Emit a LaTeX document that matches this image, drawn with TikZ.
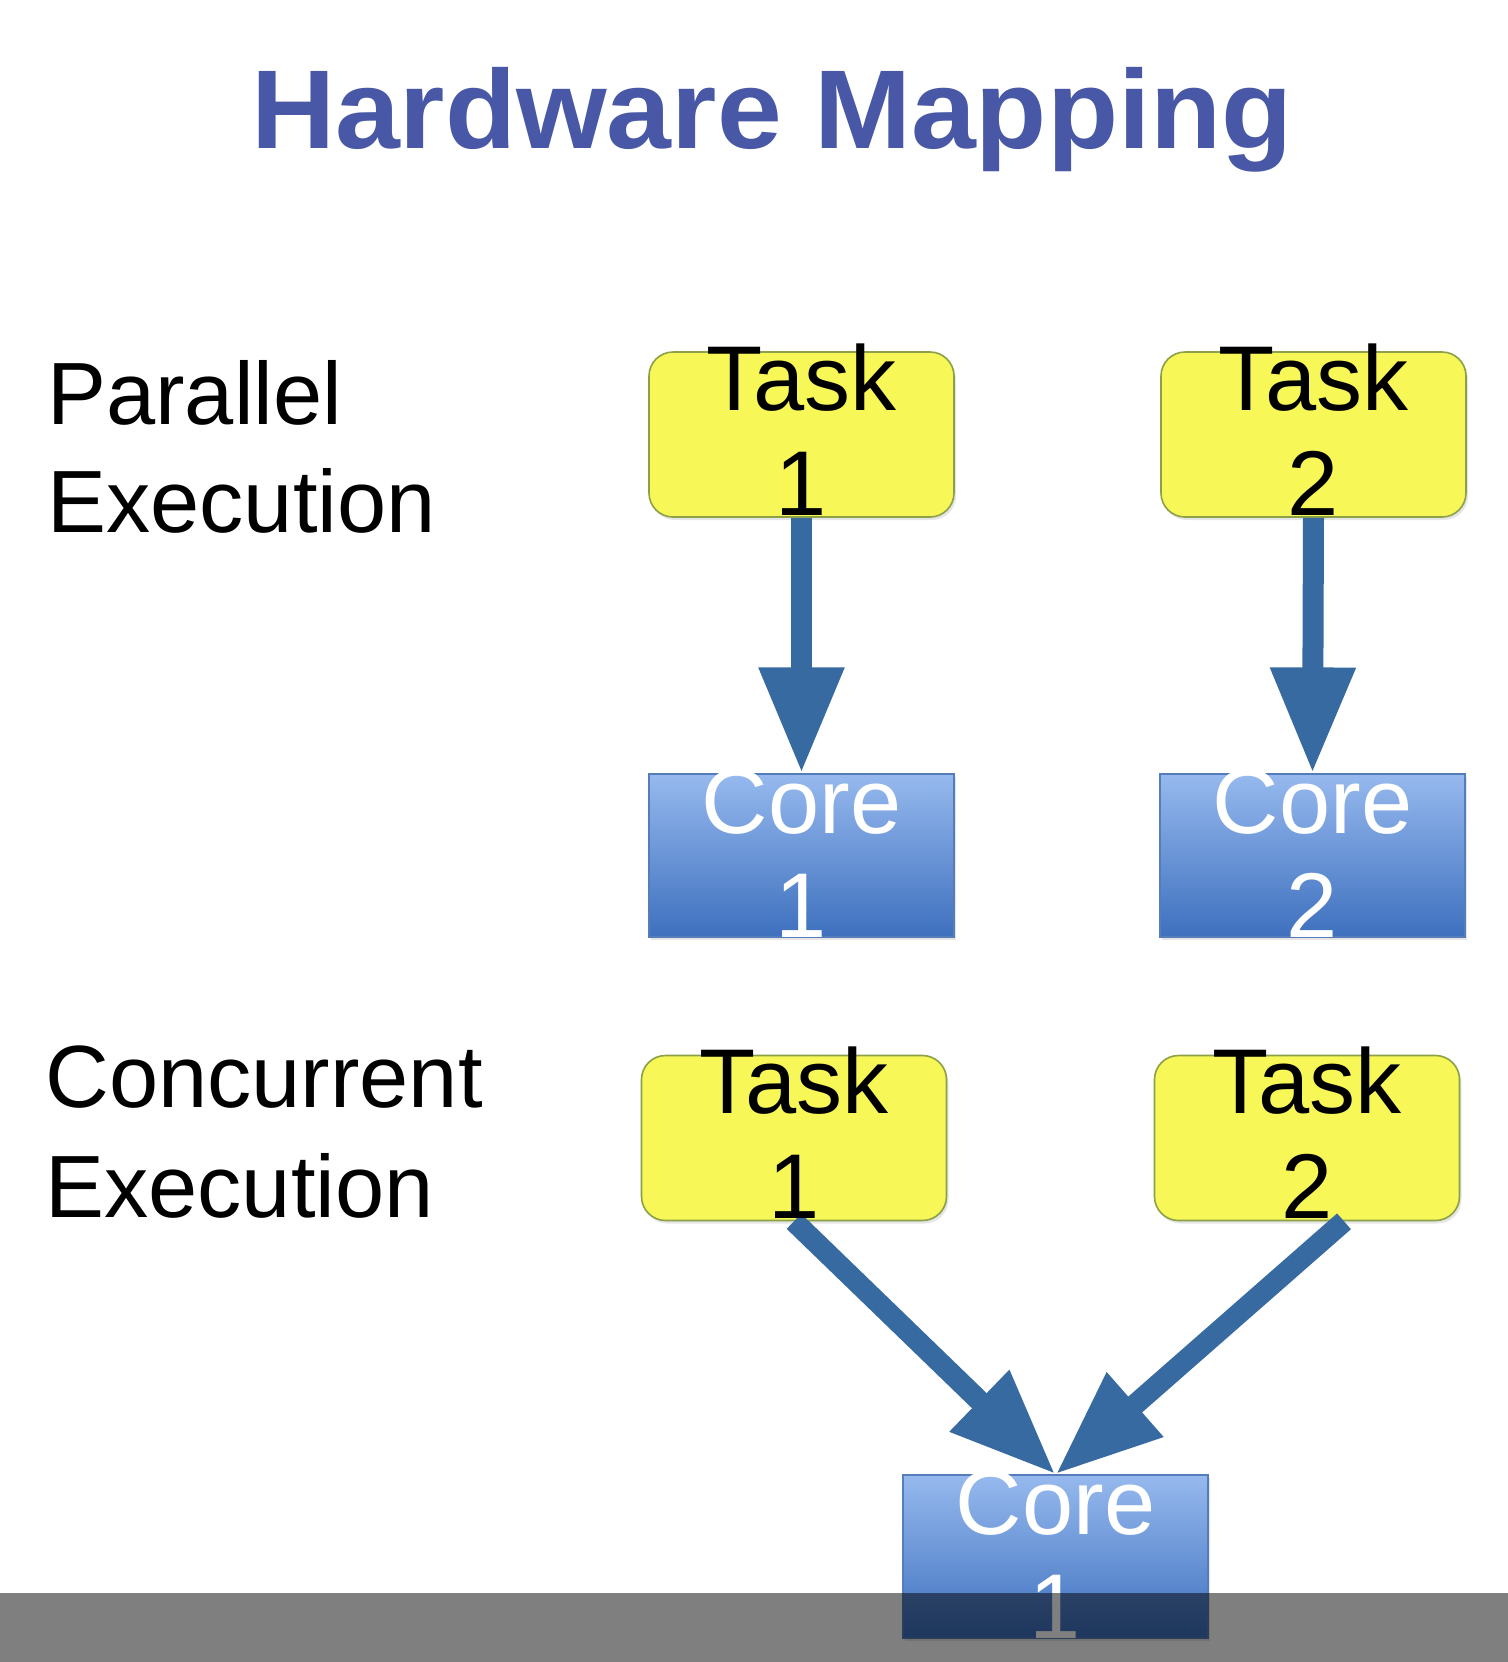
\documentclass[tikz,border=0pt]{standalone}
\usepackage{fontspec}
\setmainfont{Liberation Sans}
\usetikzlibrary{arrows.meta,calc,shadows}
\definecolor{titleblue}{RGB}{72,88,166}
\definecolor{taskyellow}{RGB}{247,247,88}
\definecolor{taskborder}{RGB}{140,160,70}
\definecolor{corelight}{RGB}{150,185,238}
\definecolor{coredark}{RGB}{62,112,190}
\definecolor{coreborder}{RGB}{85,125,185}
\definecolor{arrowblue}{RGB}{56,106,162}
\begin{document}
\begin{tikzpicture}[x=0.5pt,y=-0.5pt,
  taskbox/.style={draw=taskborder, line width=0.8pt, fill=taskyellow, rounded corners=12pt,
    minimum width=152.5pt, minimum height=82.5pt, inner sep=0pt,
    drop shadow={opacity=0.2,shadow xshift=1pt,shadow yshift=-1.5pt}},
  corebox/.style={draw=coreborder, line width=0.6pt, top color=corelight, bottom color=coredark,
    minimum width=152.5pt, minimum height=81.5pt, inner sep=0pt,
    drop shadow={opacity=0.2,shadow xshift=1pt,shadow yshift=-1.5pt}},
  boxtext/.style={font=\fontsize{46}{52}\selectfont, inner sep=0pt, anchor=base},
  tasktext/.style={boxtext, text=black},
  coretext/.style={boxtext, text=white},
  sidetext/.style={font=\fontsize{44.2}{54}\selectfont, inner sep=0pt, anchor=base west},
  bigarrow/.style={draw=arrowblue, line width=10.5pt, -{Triangle[length=53pt,width=40pt]}}]
\useasboundingbox (0,0) rectangle (1508,1662);
\fill[white] (0,0) rectangle (1508,1662);

% title
\node[font=\fontsize{56}{60}\selectfont\bfseries, text=titleblue, anchor=base, inner sep=0pt] (title) at (772,148) {\scalebox{1.04}[1]{Hardware Mapping}};

% side labels
\node[sidetext] (par1) at (47,424) {Parallel};
\node[sidetext] (par2) at (47,532) {Execution};
\node[sidetext] (con1) at (45,1107) {Concurrent};
\node[sidetext] (con2) at (45,1217) {Execution};

% boxes
\node[taskbox] (t1) at (801.5,434.5) {};
\node[taskbox] (t2) at (1313.5,434.5) {};
\node[corebox] (c1) at (801.5,855.5) {};
\node[corebox] (c2) at (1312.5,855.5) {};
\node[taskbox] (t3) at (794,1138) {};
\node[taskbox] (t4) at (1307,1138) {};
\node[corebox] (c3) at (1055.5,1556.5) {};

% arrows
\coordinate (t4out) at ($(t4.south)+(37,0)$);
\draw[bigarrow] (t1.south) -- (c1.north);
\draw[bigarrow] (t2.south) -- (c2.north);
\draw[bigarrow] (t3.south) -- (c3.north);
\draw[bigarrow] (t4out) -- (c3.north);

% box texts
\node[tasktext] (t1a) at ($(t1.north)+(0,59)$) {Task};
\node[tasktext] (t1b) at ($(t1.north)+(0,164)$) {1};
\node[tasktext] (t2a) at ($(t2.north)+(0,59)$) {Task};
\node[tasktext] (t2b) at ($(t2.north)+(0,164)$) {2};
\node[coretext] (c1a) at ($(c1.north)+(0,60)$) {Core};
\node[coretext] (c1b) at ($(c1.north)+(0,164)$) {1};
\node[coretext] (c2a) at ($(c2.north)+(0,60)$) {Core};
\node[coretext] (c2b) at ($(c2.north)+(0,164)$) {2};
\node[tasktext] (t3a) at ($(t3.north)+(0,59)$) {Task};
\node[tasktext] (t3b) at ($(t3.north)+(0,164)$) {1};
\node[tasktext] (t4a) at ($(t4.north)+(0,59)$) {Task};
\node[tasktext] (t4b) at ($(t4.north)+(0,164)$) {2};
\node[coretext] (c3a) at ($(c3.north)+(0,60)$) {Core};
\node[coretext] (c3b) at ($(c3.north)+(0,164)$) {1};

% caption band
\fill[black, opacity=0.5] (0,1593) rectangle (1508,1662);
\end{tikzpicture}
\end{document}
